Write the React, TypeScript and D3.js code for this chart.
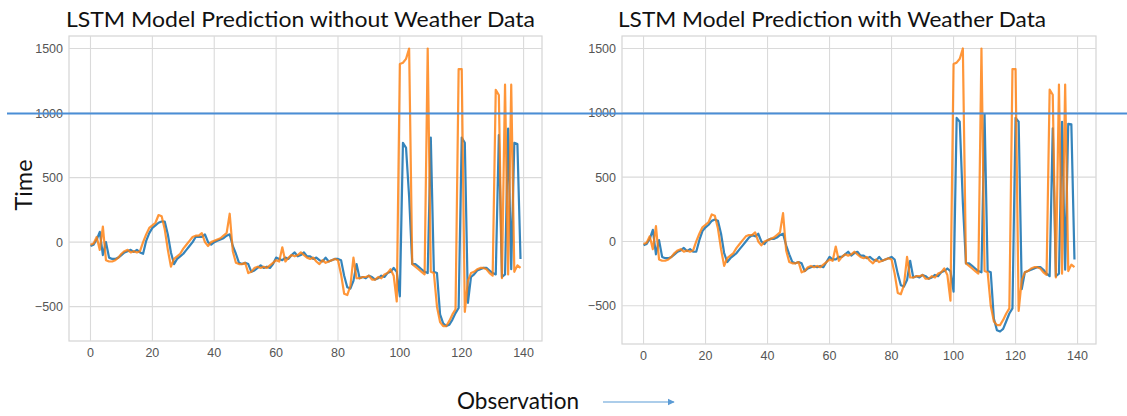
import React from "react";
import { scaleLinear, line } from "d3";

// observation index 0..139
const actual = [
  -20, -10, 40, -60, 120, -140, -150, -150, -140, -120,
  -90, -70, -60, -80, -70, -80, -70, 0, 60, 110,
  130, 150, 210, 200, 100, -60, -190, -130, -110, -90,
  -50, -20, 10, 40, 50, 50, 70, 0, -30, 0,
  10, 20, 30, 50, 70, 220, -70, -160, -170, -170,
  -160, -240, -230, -200, -190, -200, -190, -200, -180, -160,
  -140, -150, -40, -150, -120, -100, -110, -100, -80, -100,
  -120, -130, -120, -150, -170, -140, -160, -150, -140, -130,
  -140, -250, -400, -410, -340, -120, -280, -280, -270, -270,
  -260, -290, -290, -270, -280, -250, -240, -210, -260, -460,
  1380, 1390, 1420, 1500, -170, -190, -210, -230, -250, 1500,
  -230, -240, -500, -620, -650, -650, -610, -560, -520, 1340,
  1340, -540, -300, -240, -230, -210, -200, -200, -210, -240,
  -260, 1180, 1140, -280, 1220, -250, 1220, -230, -180, -200,
];

const predNoWeather = [
  -30, -20, 20, 80, -100, 0, -120, -130, -130, -120,
  -100, -80, -70, -60, -75, -60, -80, -90, 10, 70,
  110, 130, 150, 160, 160, 60, -80, -170, -130, -110,
  -90, -60, -30, 0, 40, 40, 40, 60, 0, -20,
  0, 10, 20, 30, 50, 60, -30, -90, -160, -170,
  -160, -170, -230, -220, -200, -180, -200, -190, -200, -170,
  -120, -130, -140, -120, -130, -100, -80, -110, -100, -80,
  -110, -110, -130, -120, -140, -150, -120, -150, -140, -130,
  -130, -140, -260, -350, -360, -300, -170, -280, -270, -280,
  -260, -270, -290, -280, -260, -270, -240, -230, -200, -230,
  -420, 770, 730, 350, -170, -170, -190, -210, -230, -240,
  810, -230, -240, -560, -630, -650, -640, -600, -550, -510,
  810, 770, -470, -270, -250, -220, -210, -200, -200, -220,
  -240, -250, 830, -270, -250, 880, -210, 770, 760, -130,
];

const predWeather = [
  -30, -20, 20, 90, -100, 10, -120, -130, -130, -120,
  -100, -80, -70, -50, -75, -60, -80, -80, 10, 80,
  110, 130, 160, 170, 160, 60, -90, -160, -130, -110,
  -90, -60, -30, 0, 30, 50, 40, 60, 0, -20,
  10, 20, 20, 30, 50, 60, -30, -100, -160, -170,
  -160, -170, -230, -210, -200, -190, -200, -190, -200, -160,
  -120, -140, -140, -120, -120, -100, -80, -110, -90, -80,
  -110, -110, -130, -120, -140, -150, -120, -150, -140, -130,
  -120, -140, -250, -340, -350, -300, -150, -280, -270, -280,
  -260, -270, -290, -280, -260, -270, -240, -230, -210, -230,
  -390, 960, 930, 300, -170, -170, -190, -210, -230, -240,
  990, -230, -240, -600, -690, -700, -680, -620, -560, -520,
  960, 930, -370, -240, -230, -220, -210, -200, -200, -220,
  -250, -270, 880, -270, -250, 930, -220, 915, 910, -140,
];

const xTicks = [0, 20, 40, 60, 80, 100, 120, 140];
const yTicks = [-500, 0, 500, 1000, 1500];

const gridColor = "#dadada";
const tickFont = "'Liberation Sans', Arial, sans-serif";
const labelFont = "Lato, 'Open Sans', sans-serif";

type PanelProps = {
  left: number;
  right: number;
  top: number;
  bottom: number;
  yDomain: [number, number];
  pred: number[];
  title: string;
  titleX: number;
  titleW: number;
  tickGap: number;
};

const Panel = ({ left, right, top, bottom, yDomain, pred, title, titleX, titleW, tickGap }: PanelProps) => {
  const x = scaleLinear().domain([-6.95, 145.95]).range([left, right]);
  const y = scaleLinear().domain(yDomain).range([bottom, top]);
  const path = line<number>()
    .x((_, i) => x(i))
    .y((d) => y(d));

  return (
    <g>
      <text
        x={titleX}
        y={27}
        fontFamily={labelFont}
        fontSize={20.5}
        fill="#111"
        textLength={titleW}
        lengthAdjust="spacingAndGlyphs"
      >
        {title}
      </text>
      <rect x={left} y={top} width={right - left} height={bottom - top} fill="#fff" stroke="#d4d4d4" strokeWidth={1.2} />
      {xTicks.map((t) => (
        <g key={"x" + t}>
          <line x1={x(t)} x2={x(t)} y1={top} y2={bottom} stroke={gridColor} strokeWidth={1.1} />
          <text x={x(t)} y={bottom + tickGap} textAnchor="middle" fontFamily={tickFont} fontSize={12.5} fill="#555">
            {t}
          </text>
        </g>
      ))}
      {yTicks.map((t) => (
        <g key={"y" + t}>
          <line x1={left} x2={right} y1={y(t)} y2={y(t)} stroke={gridColor} strokeWidth={1.1} />
          <text x={left - 6} y={y(t) + 4.5} textAnchor="end" fontFamily={tickFont} fontSize={12.5} fill="#555">
            {t < 0 ? "\u2212" + Math.abs(t) : t}
          </text>
        </g>
      ))}
      <path d={path(pred) ?? ""} fill="none" stroke="#1f77b4" strokeWidth={2.2} strokeOpacity={0.9} strokeLinejoin="round" />
      <path d={path(actual) ?? ""} fill="none" stroke="#ff7f0e" strokeWidth={2.2} strokeOpacity={0.82} strokeLinejoin="round" />
    </g>
  );
};

export default function App() {
  return (
    <svg
      width={1127}
      height={416}
      style={{ position: "absolute", left: 0, top: 0, background: "#fff" }}
    >
      <defs>
        <marker id="arrowHead" viewBox="0 0 10 10" refX="9" refY="5" markerWidth="6" markerHeight="6" orient="auto">
          <path d="M0,0 L10,5 L0,10 z" fill="#5b9bd5" />
        </marker>
      </defs>
      <Panel
        left={69}
        right={542}
        top={36}
        bottom={341}
        yDomain={[-766, 1597]}
        pred={predNoWeather}
        title="LSTM Model Prediction without Weather Data"
        titleX={66}
        titleW={469}
        tickGap={16}
      />
      <Panel
        left={622}
        right={1096}
        top={36}
        bottom={344}
        yDomain={[-797, 1597]}
        pred={predWeather}
        title="LSTM Model Prediction with Weather Data"
        titleX={618}
        titleW={428}
        tickGap={16}
      />
      <text
        transform="translate(32,185) rotate(-90)"
        textAnchor="middle"
        fontFamily={labelFont}
        fontSize={24}
        fill="#111"
        textLength={51}
        lengthAdjust="spacingAndGlyphs"
      >
        Time
      </text>
      <text
        x={457}
        y={409}
        fontFamily={labelFont}
        fontSize={22.5}
        fill="#111"
        textLength={122}
        lengthAdjust="spacingAndGlyphs"
      >
        Observation
      </text>
      <line x1={603} x2={674} y1={402} y2={402} stroke="#5b9bd5" strokeWidth={1.2} markerEnd="url(#arrowHead)" />
      <line x1={7} x2={1127} y1={113.5} y2={113.5} stroke="#4a8ed6" strokeWidth={2} />
    </svg>
  );
}
